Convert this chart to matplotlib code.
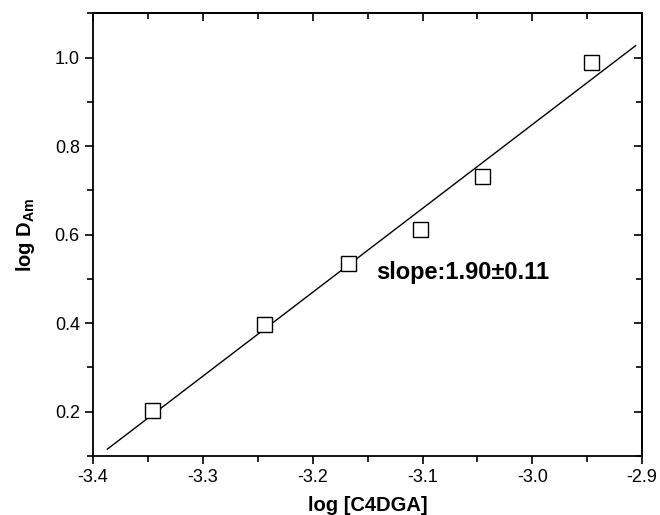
import matplotlib
matplotlib.use("Agg")
import matplotlib.pyplot as plt

plt.rcParams['font.family'] = ['Liberation Sans', 'DejaVu Sans']
plt.rcParams['mathtext.fontset'] = 'custom'
plt.rcParams['mathtext.rm'] = 'Liberation Sans'
plt.rcParams['mathtext.bf'] = 'Liberation Sans:bold'
plt.rcParams['mathtext.default'] = 'bf'

# measured points
log_c4dga = [-3.3465, -3.244, -3.168, -3.102, -3.0454, -2.9465]
log_dam = [0.204, 0.397, 0.535, 0.612, 0.733, 0.990]

# fitted line end points
fit_x = [-3.387, -2.906]
fit_y = [0.115, 1.027]

x_ticks = [-3.4, -3.3, -3.2, -3.1, -3.0, -2.9]
x_labels = ['-3.4', '-3.3', '-3.2', '-3.1', '-3.0', '-2.9']
x_minor = [-3.35, -3.25, -3.15, -3.05, -2.95]
y_ticks = [0.2, 0.4, 0.6, 0.8, 1.0]
y_labels = ['0.2', '0.4', '0.6', '0.8', '1.0']
y_minor = [0.1, 0.3, 0.5, 0.7, 0.9, 1.1]

slope_text = "slope:1.90\u00b10.11"

fig = plt.figure(figsize=(6.6, 5.15), dpi=100)
ax = fig.add_axes([0.141, 0.115, 0.832, 0.859])

ax.plot(fit_x, fit_y, color='black', linewidth=1.0)
ax.plot(log_c4dga, log_dam, linestyle='none', marker='s', markersize=10.8,
        markerfacecolor='white', markeredgecolor='black', markeredgewidth=1.0)

ax.text(-3.142, 0.515, slope_text, fontsize=17, fontweight='bold', va='center')

ax.set_xlim(-3.4, -2.9)
ax.set_ylim(0.1, 1.1)
ax.set_xticks(x_ticks, x_labels)
ax.set_xticks(x_minor, minor=True)
ax.set_yticks(y_ticks, y_labels)
ax.set_yticks(y_minor, minor=True)

ax.tick_params(which='both', direction='out', top=False, right=False, width=1.2,
               labelsize=13, colors='black')
ax.tick_params(which='major', length=6)
ax.tick_params(which='minor', length=4)

# inward ticks on top and right
sec_x = ax.secondary_xaxis('top')
sec_x.set_xticks(x_ticks)
sec_x.set_xticks(x_minor, minor=True)
sec_x.tick_params(which='both', direction='in', labeltop=False, width=1.2)
sec_x.tick_params(which='major', length=6)
sec_x.tick_params(which='minor', length=4)
sec_y = ax.secondary_yaxis('right')
sec_y.set_yticks(y_ticks)
sec_y.set_yticks(y_minor, minor=True)
sec_y.tick_params(which='both', direction='in', labelright=False, width=1.2)
sec_y.tick_params(which='major', length=6)
sec_y.tick_params(which='minor', length=4)

for s in ax.spines.values():
    s.set_linewidth(1.3)
sec_x.spines['top'].set_linewidth(1.3)
sec_y.spines['right'].set_linewidth(1.3)

ax.set_xlabel("log [C4DGA]", fontsize=14.5, fontweight='bold', labelpad=7)
ax.set_ylabel("log D$_{Am}$", fontsize=14.5, fontweight='bold', labelpad=13)

fig.savefig("out.png", dpi=100)
